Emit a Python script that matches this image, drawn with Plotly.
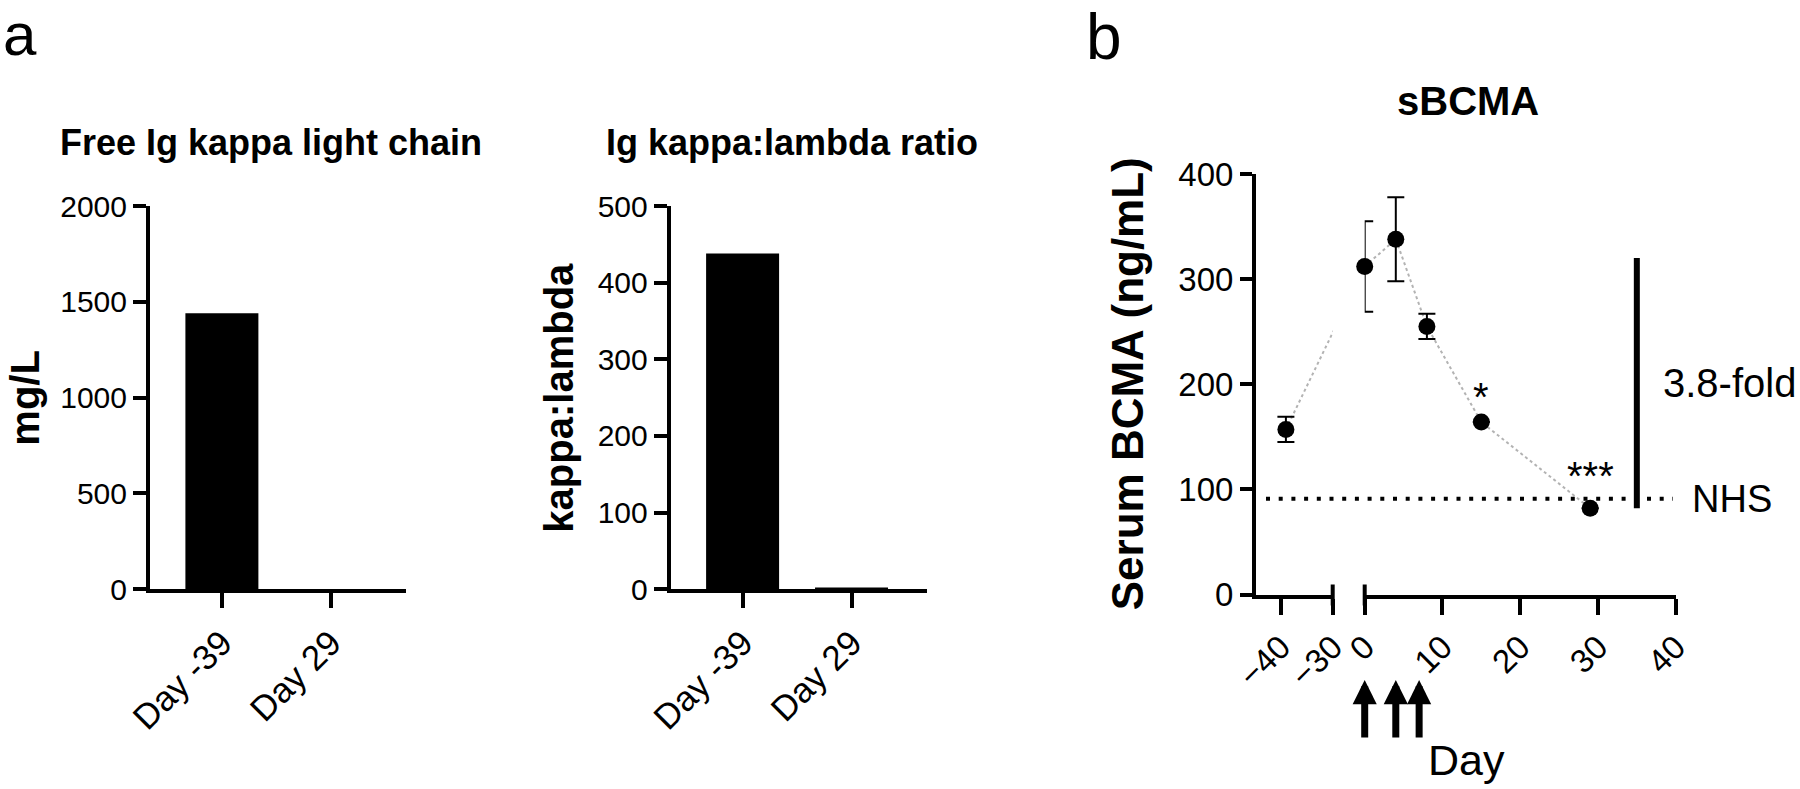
import plotly.graph_objects as go

# ---------------- data ----------------
CATEGORIES = ["Day -39", "Day 29"]
FREE_KAPPA_MG_L = [1440, 0]
KAPPA_LAMBDA_RATIO = [438, 2.5]

SERUM_DAYS = [-39, 0, 4, 8, 15, 29]
SERUM_BCMA = [157, 312, 338, 255, 164, 82]
SERUM_SEM = [12, 43, 40, 12, None, None]
DOSE_DAYS = [0, 4, 7]
NHS_LEVEL = 91
FOLD_DAY = 35
FOLD_TOP = 320
SIG_DAYS = [15, 29]
SIG_TEXT = ["*", "***"]

Y_TICKS_A1 = [0, 500, 1000, 1500, 2000]
Y_TICKS_A2 = [0, 100, 200, 300, 400, 500]
Y_TICKS_B = [0, 100, 200, 300, 400]
X_TICKS_B_LEFT = [-40, -30]
X_TICKS_B_RIGHT = [0, 10, 20, 30, 40]

# ---------------- layout geometry (pixels) ----------------
W, H = 1800, 789
FONT = "Liberation Sans, Arial, Helvetica, sans-serif"


def fx(p):
    return p / W


def fy(p):
    return 1 - p / H


A1_X = (150, 406)
A2_X = (670.7, 926.7)
A_Y = (589.3, 206)
B_XL = (1256, 1332.7)
B_XR = (1364.7, 1675.7)
B_Y = (594.5, 174)
B_LEFT_RANGE = [-44.75, -30]
B_RIGHT_RANGE = [0, 40]
CAT_RANGE = [-0.66, 1.69]


def left_to_px(d):
    r0, r1 = B_LEFT_RANGE
    return B_XL[0] + (d - r0) / (r1 - r0) * (B_XL[1] - B_XL[0])


def right_to_px(d):
    r0, r1 = B_RIGHT_RANGE
    return B_XR[0] + (d - r0) / (r1 - r0) * (B_XR[1] - B_XR[0])


def px_to_left(p):
    r0, r1 = B_LEFT_RANGE
    return r0 + (p - B_XL[0]) / (B_XL[1] - B_XL[0]) * (r1 - r0)


fig = go.Figure()

# panel a bars
fig.add_trace(go.Bar(x=CATEGORIES, y=FREE_KAPPA_MG_L, marker=dict(color="black", line=dict(width=0)),
                     width=0.67, xaxis="x", yaxis="y"))
fig.add_trace(go.Bar(x=CATEGORIES, y=KAPPA_LAMBDA_RATIO, marker=dict(color="black", line=dict(width=0)),
                     width=0.67, xaxis="x2", yaxis="y2"))

# panel b
left_idx = [i for i, d in enumerate(SERUM_DAYS) if d <= B_LEFT_RANGE[1]]
right_idx = [i for i, d in enumerate(SERUM_DAYS) if d >= B_RIGHT_RANGE[0]]
first_right = right_idx[0]

conn_style = dict(color="#b3b3b3", width=2, dash="dot")
# connector in left segment (continues toward first right point, clipped at the break)
fig.add_trace(go.Scatter(
    x=[SERUM_DAYS[i] for i in left_idx] + [px_to_left(right_to_px(SERUM_DAYS[first_right]))],
    y=[SERUM_BCMA[i] for i in left_idx] + [SERUM_BCMA[first_right]],
    mode="lines", line=conn_style, xaxis="x3", yaxis="y3", hoverinfo="skip"))
fig.add_trace(go.Scatter(
    x=[SERUM_DAYS[i] for i in right_idx], y=[SERUM_BCMA[i] for i in right_idx],
    mode="lines", line=conn_style, xaxis="x4", yaxis="y3", hoverinfo="skip"))

err_style = dict(type="data", visible=True, color="black", thickness=2, width=8.5)
fig.add_trace(go.Scatter(
    x=[SERUM_DAYS[i] for i in left_idx], y=[SERUM_BCMA[i] for i in left_idx],
    error_y=dict(array=[SERUM_SEM[i] for i in left_idx], **err_style), cliponaxis=False,
    mode="markers", marker=dict(color="black", size=17), xaxis="x3", yaxis="y3"))
fig.add_trace(go.Scatter(
    x=[SERUM_DAYS[i] for i in right_idx], y=[SERUM_BCMA[i] for i in right_idx],
    error_y=dict(array=[SERUM_SEM[i] for i in right_idx], **err_style), cliponaxis=False,
    mode="markers", marker=dict(color="black", size=17), xaxis="x4", yaxis="y3"))

# fold-change bar
fig.add_trace(go.Scatter(x=[FOLD_DAY, FOLD_DAY], y=[SERUM_BCMA[-1], FOLD_TOP], mode="lines",
                         line=dict(color="black", width=6), xaxis="x4", yaxis="y3", hoverinfo="skip"))

base_axis = dict(showline=True, linecolor="black", linewidth=4, ticks="outside", tickwidth=4,
                 tickcolor="black", showgrid=False, zeroline=False, fixedrange=True,
                 automargin=False)

layout = dict(
    template="none",
    width=W, height=H, autosize=False,
    margin=dict(l=0, r=0, t=0, b=0, pad=0, autoexpand=False),
    paper_bgcolor="white", plot_bgcolor="white", showlegend=False,
    font=dict(family=FONT, color="black"),
    xaxis=dict(base_axis, domain=[fx(A1_X[0]), fx(A1_X[1])], anchor="y", type="category",
               range=CAT_RANGE, ticklen=15, tickangle=-45, tickfont=dict(size=35)),
    yaxis=dict(base_axis, domain=[fy(A_Y[0]), fy(A_Y[1])], anchor="x", range=[0, 2000],
               tickvals=Y_TICKS_A1, ticklen=13, tickfont=dict(size=30)),
    xaxis2=dict(base_axis, domain=[fx(A2_X[0]), fx(A2_X[1])], anchor="y2", type="category",
                range=CAT_RANGE, ticklen=15, tickangle=-45, tickfont=dict(size=35)),
    yaxis2=dict(base_axis, domain=[fy(A_Y[0]), fy(A_Y[1])], anchor="x2", range=[0, 500],
                tickvals=Y_TICKS_A2, ticklen=13, tickfont=dict(size=30)),
    xaxis3=dict(base_axis, domain=[fx(B_XL[0]), fx(B_XL[1])], anchor="y3", range=B_LEFT_RANGE,
                tickvals=X_TICKS_B_LEFT, ticklen=16, tickangle=-45, tickfont=dict(size=33)),
    xaxis4=dict(base_axis, domain=[fx(B_XR[0]), fx(B_XR[1])], anchor="y3", range=B_RIGHT_RANGE,
                tickvals=X_TICKS_B_RIGHT, ticklen=16, tickangle=-45, tickfont=dict(size=33)),
    yaxis3=dict(base_axis, domain=[fy(B_Y[0]), fy(B_Y[1])], anchor="x3", range=[0, 400],
                tickvals=Y_TICKS_B, ticklen=12, tickfont=dict(size=33)),
)

# break caps and NHS line
shapes = []
for px in (left_to_px(B_LEFT_RANGE[1]), right_to_px(B_RIGHT_RANGE[0])):
    shapes.append(dict(type="line", xref="paper", yref="paper", x0=fx(px), x1=fx(px),
                       y0=fy(B_Y[0] + 11), y1=fy(B_Y[0] - 10), line=dict(color="black", width=4)))
shapes.append(dict(type="line", xref="paper", yref="y3", x0=fx(1266), x1=fx(1673),
                   y0=NHS_LEVEL, y1=NHS_LEVEL, line=dict(color="black", width=4, dash="4px,8.7px")))
layout["shapes"] = shapes

ann = []


def text_ann(text, x, y, size, bold=False, xanchor="center", angle=0, **kw):
    a = dict(text=text, x=x, y=y, xref=kw.pop("xref", "paper"), yref=kw.pop("yref", "paper"),
             showarrow=False, xanchor=xanchor, yanchor="middle", textangle=angle,
             font=dict(size=size, family=FONT, color="black", weight="bold" if bold else "normal"))
    a.update(kw)
    ann.append(a)


# panel letters
ann.append(dict(text="a", x=fx(2), y=1, xref="paper", yref="paper", showarrow=False,
                xanchor="left", yanchor="top", borderpad=0,
                font=dict(size=60, family=FONT, color="black")))
text_ann("b", fx(1084), fy(37), 64, xanchor="left")
# titles
text_ann("Free Ig kappa light chain", fx(271), fy(143), 36, bold=True)
text_ann("Ig kappa:lambda ratio", fx(792), fy(143), 36, bold=True)
text_ann("sBCMA", fx(1467.5), fy(101), 40, bold=True)
# y titles
text_ann("mg/L", fx(25), fy((A_Y[0] + A_Y[1]) / 2), 40, bold=True, angle=-90)
text_ann("kappa:lambda", fx(559), fy((A_Y[0] + A_Y[1]) / 2), 40, bold=True, angle=-90)
text_ann("Serum BCMA (ng/mL)", fx(1127), fy((B_Y[0] + B_Y[1]) / 2), 44, bold=True, angle=-90)
# panel b texts
text_ann("NHS", fx(1690), NHS_LEVEL, 38, xanchor="left", yref="y3")
text_ann("3.8-fold", fx(1661), (SERUM_BCMA[-1] + FOLD_TOP) / 2, 40, xanchor="left", yref="y3")
text_ann("Day", fx(1426), fy(760), 43, xanchor="left")
for d, t, sh in zip(SIG_DAYS, SIG_TEXT, (25, 32)):
    text_ann(t, d, SERUM_BCMA[SERUM_DAYS.index(d)], 40, xref="x4", yref="y3", yshift=sh)

# dosing arrows
for d in DOSE_DAYS:
    ann.append(dict(x=d, xref="x4", y=fy(680), yref="paper", ax=0, ay=59, axref="pixel",
                    ayref="pixel", showarrow=True, arrowhead=2, arrowsize=0.69, arrowwidth=7,
                    arrowcolor="black", text="", standoff=0))

layout["annotations"] = ann
fig.update_layout(**layout)
fig.write_html("out.html", config={"displayModeBar": False, "staticPlot": True},
               post_script="document.body.style.margin='0';document.body.style.overflow='hidden';")
